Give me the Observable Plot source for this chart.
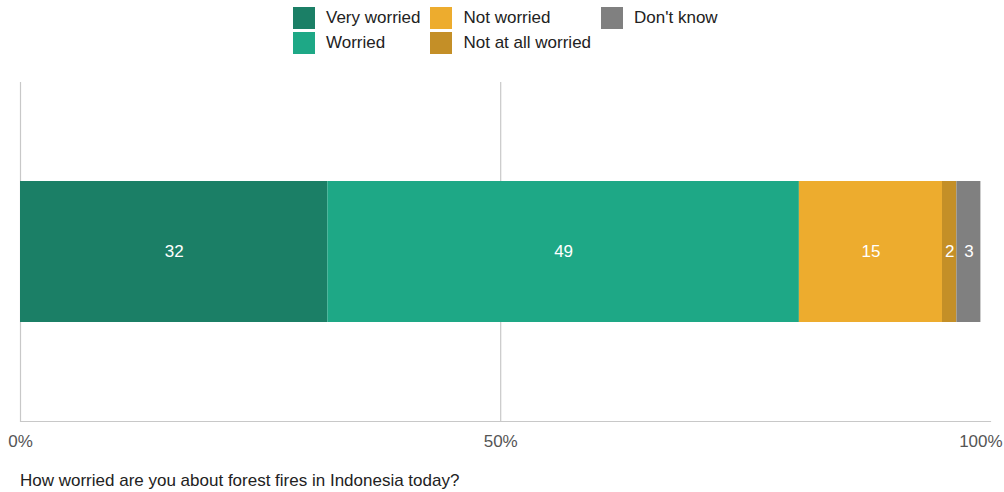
<!DOCTYPE html>
<html>
<head>
<meta charset="utf-8">
<script src="https://cdn.jsdelivr.net/npm/d3@7"></script>
<script src="https://cdn.jsdelivr.net/npm/@observablehq/plot@0.6"></script>
<style>
  html, body { margin: 0; padding: 0; background: #fff; }
  body { width: 1004px; height: 492px; overflow: hidden; font-family: "Liberation Sans", Arial, Helvetica, sans-serif; color: #222; }
  #legend { height: 56px; box-sizing: border-box; padding-top: 7px; padding-left: 293px; display: flex; justify-content: flex-start; }
  #legend .grid { display: grid; grid-auto-flow: column; grid-template-rows: 22px 22px; row-gap: 3px; column-gap: 10px; }
  #legend .item { display: flex; align-items: center; font-size: 17px; color: #222; white-space: nowrap; }
  #legend .sw { width: 22px; height: 22px; margin-right: 11px; flex: none; }
  #caption { font-size: 17px; color: #222; padding-left: 20px; padding-top: 11px; line-height: 20px; }
</style>
</head>
<body>
<div id="legend"><div class="grid"></div></div>
<div id="chart"></div>
<div id="caption"></div>
<script>
const categories = ["Very worried", "Worried", "Not worried", "Not at all worried", "Don't know"];
const values = [32, 49.1, 14.9, 1.5, 2.5];
const colors = ["#1b7f66", "#1ea886", "#edac2e", "#c48f27", "#808080"];
const question = "How worried are you about forest fires in Indonesia today?";
const xTicks = [0, 50, 100];
const tickLabels = ["0%", "50%", "100%"];

const data = categories.map((c, i) => ({q: question, cat: c, value: values[i]}));

// legend
const grid = document.querySelector("#legend .grid");
categories.forEach((c, i) => {
  const item = document.createElement("div");
  item.className = "item";
  const sw = document.createElement("span");
  sw.className = "sw";
  sw.style.background = colors[i];
  item.appendChild(sw);
  item.appendChild(document.createTextNode(c));
  grid.appendChild(item);
});

const chart = Plot.plot({
  width: 1004,
  height: 404,
  marginTop: 26,
  marginBottom: 39,
  marginLeft: 20,
  marginRight: 14,
  style: {fontFamily: "'Liberation Sans', Arial, Helvetica, sans-serif", fontSize: "17px", background: "#fff"},
  x: {domain: [0, 101], axis: null},
  y: {domain: [question], axis: null, padding: 0.412},
  color: {domain: categories, range: colors},
  marks: [
    Plot.ruleX([0, 50], {stroke: "#c8c8c8", strokeWidth: 1.2}),
    Plot.frame({anchor: "bottom", stroke: "#c8c8c8", strokeWidth: 1.2}),
    Plot.barX(data, Plot.stackX({x: "value", y: "q", fill: "cat", z: "cat", order: categories})),
    Plot.textX(data, Plot.stackX({x: "value", y: "q", z: "cat", order: categories, text: d => String(Math.round(d.value)), fill: "white", fontSize: 17})),
    Plot.axisX({ticks: xTicks, tickFormat: (d) => tickLabels[xTicks.indexOf(d)], tickSize: 0, tickPadding: 13, fontSize: 17, fill: "#555", label: null})
  ]
});
document.getElementById("chart").appendChild(chart);
document.getElementById("caption").textContent = question;
</script>
</body>
</html>
